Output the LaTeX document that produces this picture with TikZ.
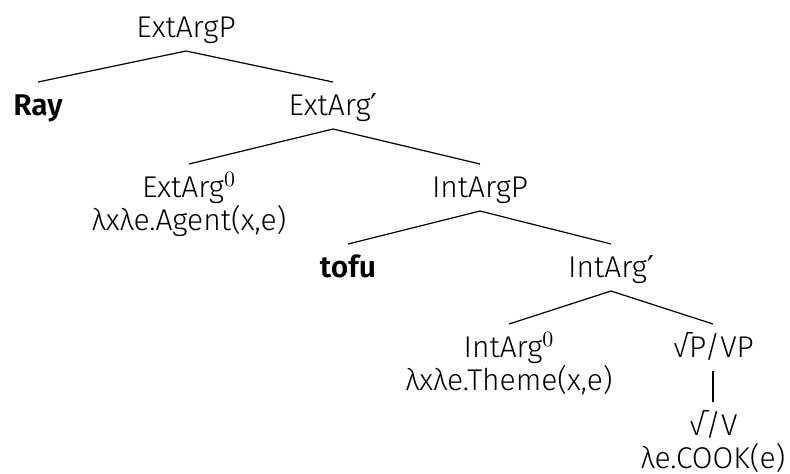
\documentclass[tikz,border=0pt]{standalone}
\usepackage{fontspec}
\setmainfont{Fira Sans}[UprightFont=* Light, BoldFont=* SemiBold]
\newfontfamily\primefont{DejaVu Sans}
\usepackage{tikz}

\newcommand{\barlevel}{{\primefont ′}}

\begin{document}
\begin{tikzpicture}[
        x=0.5pt, y=-0.5pt,
        cat/.style={inner sep=0pt, outer sep=0pt, anchor=base, align=center, text height=16.5pt, text depth=7pt, font=\fontsize{15}{16.5}\selectfont},
        cattwo/.style={cat, text height=33pt},
        word/.style={cat, font=\fontsize{15}{16.5}\selectfont\bfseries},
        branch/.style={line width=0.6pt}
    ]
        \useasboundingbox (0,0) rectangle (790,473);

        % two-line nodes sit on their lower line
        \node[cat] (extargp) at (186,37) {ExtArgP};
        \node[word] (ray) at (38,115) {Ray};
        \node[cat] (extargbar) at (333,115) {ExtArg\barlevel};
        \node[cattwo] (extarghead) at (189,230) {ExtArg$^0$\\λxλe.Agent(x,e)};
        \node[cat] (intargp) at (480,197) {IntArgP};
        \node[word] (tofu) at (348,277) {tofu};
        \node[cat] (intargbar) at (611,277) {IntArg\barlevel};
        \node[cattwo] (intarghead) at (509,390) {IntArg$^0$\\λxλe.Theme(x,e)};
        \node[cat] (rootp) at (713,357) {√P/VP};
        \node[cattwo] (root) at (713,468) {√/V\\λe.COOK(e)};

        \draw[branch] (extargp.south) -- (ray.north);
        \draw[branch] (extargp.south) -- (extargbar.north);
        \draw[branch] (extargbar.south) -- (extarghead.north);
        \draw[branch] (extargbar.south) -- (intargp.north);
        \draw[branch] (intargp.south) -- (tofu.north);
        \draw[branch] (intargp.south) -- (intargbar.north);
        \draw[branch] (intargbar.south) -- (intarghead.north);
        \draw[branch] (intargbar.south) -- (rootp.north);
        \draw[branch] (rootp.south) -- (root.north);
    \end{tikzpicture}
\end{document}
